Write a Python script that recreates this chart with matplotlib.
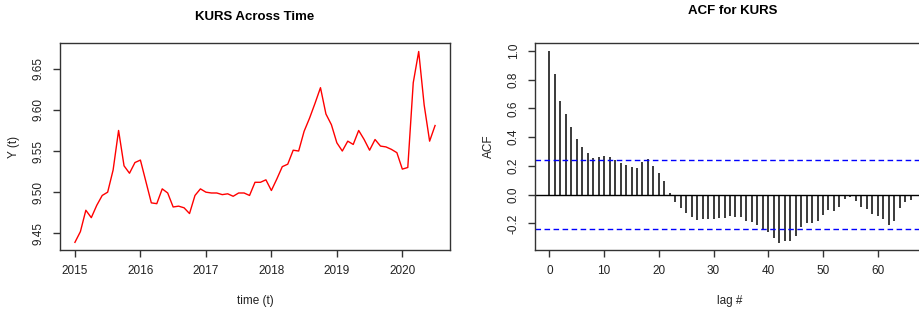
"""
KURS 时间序列与 ACF 图 (仿 R base graphics 风格)
"""

import numpy as np
import matplotlib
matplotlib.use('Agg')
import matplotlib.pyplot as plt

plt.rcParams['font.family'] = ['Liberation Sans', 'DejaVu Sans']

# 月度数据 2015-01 .. 2020-07
start_year = 2015
kurs = [9.439, 9.452, 9.478, 9.469, 9.484, 9.496, 9.500, 9.527, 9.575, 9.532,
        9.523, 9.536, 9.539, 9.513, 9.487, 9.486, 9.504, 9.499, 9.482, 9.483,
        9.481, 9.474, 9.496, 9.504, 9.500, 9.499, 9.499, 9.497, 9.498, 9.495,
        9.499, 9.499, 9.496, 9.512, 9.512, 9.515, 9.502, 9.516, 9.531, 9.534,
        9.551, 9.550, 9.574, 9.590, 9.608, 9.627, 9.595, 9.582, 9.560, 9.550,
        9.562, 9.558, 9.575, 9.564, 9.551, 9.564, 9.556, 9.555, 9.552, 9.548,
        9.528, 9.530, 9.633, 9.671, 9.606, 9.562, 9.581]
year_ticks = [2015, 2016, 2017, 2018, 2019, 2020]
y_ticks = [9.45, 9.50, 9.55, 9.60, 9.65]

# ACF (lag 0..66)
acf_vals = [1.000, 0.838, 0.652, 0.559, 0.473, 0.387, 0.330, 0.288, 0.258, 0.262,
            0.267, 0.262, 0.240, 0.220, 0.209, 0.190, 0.188, 0.228, 0.248, 0.200,
            0.149, 0.095, 0.014, -0.049, -0.095, -0.130, -0.155, -0.176, -0.169, -0.169,
            -0.169, -0.160, -0.165, -0.148, -0.153, -0.153, -0.181, -0.188, -0.211, -0.241,
            -0.258, -0.300, -0.334, -0.322, -0.322, -0.288, -0.227, -0.195, -0.195, -0.181,
            -0.141, -0.107, -0.111, -0.088, -0.028, -0.014, -0.042, -0.088, -0.100, -0.135,
            -0.146, -0.172, -0.213, -0.181, -0.095, -0.050, -0.034]
ci = 0.239
lag_ticks = [0, 10, 20, 30, 40, 50, 60]
acf_ticks = [-0.2, 0.0, 0.2, 0.4, 0.6, 0.8, 1.0]

W, H = 920, 310
FRAME = '#333333'
TXT = '#222222'
FS = 8.5


def r_style(ax):
    for s in ax.spines.values():
        s.set_color(FRAME)
        s.set_linewidth(1.0)
    ax.tick_params(length=5, width=1, color=FRAME, labelcolor=TXT,
                   labelsize=FS, pad=6)
    for lab in ax.get_yticklabels():
        lab.set_rotation(90)
        lab.set_va('center')


fig = plt.figure(figsize=(W / 100, H / 100), dpi=100)

# 左图：时间序列
ax1 = fig.add_axes([60 / W, 1 - 250 / H, 390 / W, 207 / H])
t = start_year + np.arange(len(kurs)) / 12
ax1.plot(t, kurs, color='#FF0000', lw=1.0)
ax1.set_xlim(2014.772, 2020.728)
ax1.set_ylim(9.4297, 9.6813)
ax1.set_xticks(year_ticks)
ax1.set_xticklabels([str(y) for y in year_ticks])
ax1.set_yticks(y_ticks)
ax1.set_yticklabels([f'{v:.2f}' for v in y_ticks])
r_style(ax1)
ax1.set_xlabel('time (t)', fontsize=FS, color=TXT, labelpad=13)
ax1.set_ylabel('Y (t)', fontsize=FS, color=TXT, labelpad=9)
fig.text(255 / W, 1 - 17 / H, 'KURS Across Time', ha='center', va='center',
         fontsize=9.5, fontweight='bold', color='black')

# 右图：ACF（右边框超出画布）
ax2 = fig.add_axes([535 / W, 1 - 250 / H, 390 / W, 207 / H])
lags = np.arange(len(acf_vals))
ax2.vlines(lags, 0, acf_vals, color='#3a3a3a', lw=1.4)
ax2.axhline(0, color='black', lw=1.0)
ax2.axhline(ci, color='#0000FF', lw=1.0, ls=(0, (4, 2.5)))
ax2.axhline(-ci, color='#0000FF', lw=1.0, ls=(0, (4, 2.5)))
ax2.set_xlim(-2.64, 68.64)
ax2.set_ylim(-0.385, 1.054)
ax2.set_xticks(lag_ticks)
ax2.set_yticks(acf_ticks)
ax2.set_yticklabels([f'{v:.1f}' for v in acf_ticks])
r_style(ax2)
ax2.set_xlabel('lag #', fontsize=FS, color=TXT, labelpad=13)
ax2.set_ylabel('ACF', fontsize=FS, color=TXT, labelpad=9)
fig.text(733 / W, 1 - 11 / H, 'ACF for KURS', ha='center', va='center',
         fontsize=9.5, fontweight='bold', color='black')

fig.savefig('out.png', dpi=100)
